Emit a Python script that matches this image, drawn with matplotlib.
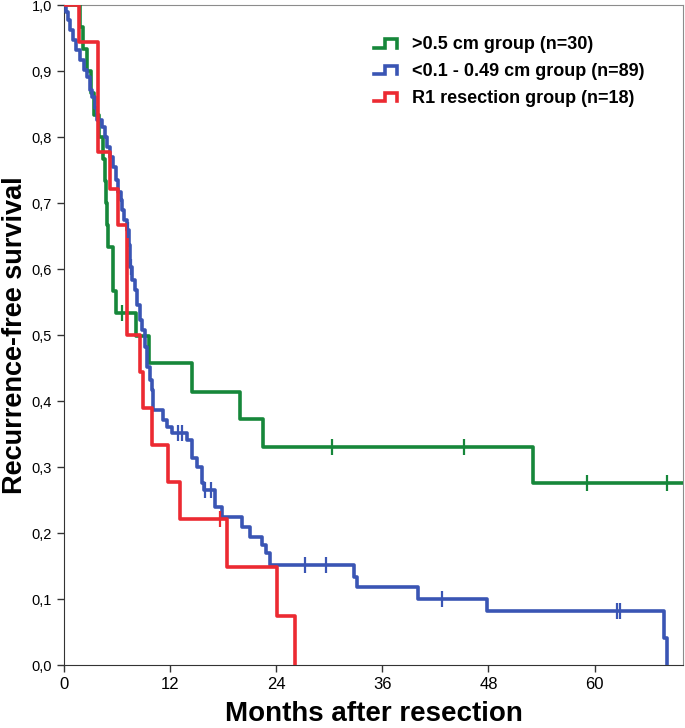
import numpy as np
import matplotlib
matplotlib.use("Agg")
import matplotlib.pyplot as plt
from matplotlib.lines import Line2D
from matplotlib.legend_handler import HandlerBase
from matplotlib.ticker import FuncFormatter

# Kaplan-Meier curves (time of drop in months, survival after drop)
green_t = [0, 1.8, 2.2, 2.6, 3.0, 3.4, 4.0, 4.4, 4.6, 4.75, 4.85, 5.0, 5.5, 5.6, 5.9,
           8.1, 9.6, 14.5, 19.9, 22.5, 53.0]
green_s = [1.0, 0.967, 0.933, 0.9, 0.867, 0.833, 0.8, 0.767, 0.733, 0.7, 0.667, 0.633,
           0.6, 0.567, 0.533, 0.498, 0.458, 0.414, 0.373, 0.331, 0.276]
green_end = 70.0
green_cens = [6.6, 30.3, 45.2, 59.1, 68.2]

blue_t = [0, 0.2, 0.45, 0.7, 1.0, 1.35, 1.8, 2.25, 2.6, 2.95, 3.15, 3.5, 3.75, 4.3, 4.65,
          4.85, 5.2, 5.55, 5.9, 6.1, 6.45, 6.55, 6.8, 7.1, 7.35, 7.45, 7.7, 8.0, 8.25, 8.6,
          8.8, 9.15, 9.4, 9.7, 9.95, 10.05, 11.2, 11.65, 12.2, 13.9, 14.45, 15.0, 15.6, 15.8,
          17.05, 17.85, 20.1, 21.0, 22.4, 22.9, 23.3, 32.8, 33.1, 40.0, 47.8, 67.9, 68.15]
blue_s = [1.0, 0.989, 0.977, 0.962, 0.947, 0.932, 0.917, 0.902, 0.891, 0.871, 0.861, 0.844,
          0.826, 0.815, 0.8, 0.785, 0.77, 0.755, 0.735, 0.717, 0.705, 0.689, 0.674, 0.659,
          0.636, 0.603, 0.583, 0.568, 0.545, 0.523, 0.508, 0.482, 0.452, 0.432, 0.417, 0.386,
          0.372, 0.36, 0.352, 0.341, 0.314, 0.3, 0.276, 0.265, 0.24, 0.224, 0.209, 0.194,
          0.182, 0.17, 0.152, 0.133, 0.118, 0.1, 0.082, 0.041, 0.0]
blue_end = 68.15
blue_cens = [7.2, 7.6, 12.9, 13.3, 16.0, 16.6, 27.3, 29.6, 42.8, 62.5, 62.9]

red_t = [0, 1.7, 3.8, 5.2, 6.1, 7.1, 8.6, 8.9, 10.0, 11.8, 13.1, 18.4, 24.1, 26.1]
red_s = [1.0, 0.944, 0.778, 0.722, 0.667, 0.5, 0.444, 0.389, 0.333, 0.278, 0.222, 0.148,
         0.074, 0.0]
red_end = 26.1
red_cens = [17.6]

labels = [">0.5 cm group (n=30)", "<0.1 - 0.49 cm group (n=89)", "R1 resection group (n=18)"]
colors = ["#16873a", "#3a55b4", "#ec2a32"]
x_ticks = [0, 12, 24, 36, 48, 60]
y_ticks = [0.0, 0.1, 0.2, 0.3, 0.4, 0.5, 0.6, 0.7, 0.8, 0.9, 1.0]


class StepHandler(HandlerBase):
    # little step icon like the SPSS legend
    def create_artists(self, legend, orig_handle, xdescent, ydescent, width, height,
                       fontsize, trans):
        w = width * 0.85
        xs = np.array([0, 0.45 * w, 0.45 * w, w, w]) - xdescent
        ys = np.array([0.1, 0.1, 0.8, 0.8, 0.1]) * height - ydescent
        ln = Line2D(xs, ys, color=orig_handle.get_color(), lw=2.6, solid_joinstyle="miter")
        ln.set_transform(trans)
        return [ln]


def surv_at(t_list, s_list, x):
    idx = np.searchsorted(t_list, x, side="right") - 1
    return s_list[idx]


fig = plt.figure(figsize=(6.85, 7.28), dpi=100)
ax = fig.add_axes([0.0934, 0.0865, 0.9036, 0.9066])

groups = [(green_t, green_s, green_end, green_cens),
          (blue_t, blue_s, blue_end, blue_cens),
          (red_t, red_s, red_end, red_cens)]
handles = []
for (t, s, end, cens), col, lab in zip(groups, colors, labels):
    tt = list(t) + [end]
    ss = list(s) + [s[-1]]
    h, = ax.step(tt, ss, where="post", color=col, lw=2.6, label=lab, zorder=3)
    cy = [surv_at(t, s, c) for c in cens]
    ax.plot(cens, cy, linestyle="none", marker="|", markersize=12, mew=1.6, color=col, zorder=4)
    handles.append(h)

ax.set_xlim(0, 70)
ax.set_ylim(0, 1.0)
ax.set_xticks(x_ticks)
ax.set_yticks(y_ticks)
ax.yaxis.set_major_formatter(FuncFormatter(lambda v, p: f"{v:.1f}".replace(".", ",")))
ax.tick_params(axis="both", direction="out", length=5, width=1, color="#333333")
for lab in ax.get_yticklabels():
    lab.set_fontfamily("Liberation Sans")
    lab.set_fontsize(10.5)
for lab in ax.get_xticklabels():
    lab.set_fontfamily(["Liberation Sans Narrow", "Liberation Sans"])
    lab.set_fontsize(12)

for side in ["top", "right"]:
    ax.spines[side].set_color("#8c8c8c")
for side in ["left", "bottom"]:
    ax.spines[side].set_color("#333333")

ax.set_xlabel("Months after resection", fontsize=20, fontweight="bold",
              fontfamily=["Liberation Sans Narrow", "Liberation Sans"])
ax.xaxis.set_label_coords(0.5, -0.055)
ax.xaxis.label.set_va("top")
ax.set_ylabel("Recurrence-free survival", fontsize=19.5, fontweight="bold",
              fontfamily="Liberation Sans")
ax.yaxis.set_label_coords(-0.058, 0.5)

leg = ax.legend(handles=handles, labels=labels, loc="upper left",
                bbox_to_anchor=(0.475, 0.978), frameon=False,
                handler_map={Line2D: StepHandler()}, handlelength=1.5, handletextpad=0.6,
                labelspacing=0.55, prop={"family": "Liberation Sans", "weight": "bold", "size": 13})

fig.savefig("out.png", dpi=100)
